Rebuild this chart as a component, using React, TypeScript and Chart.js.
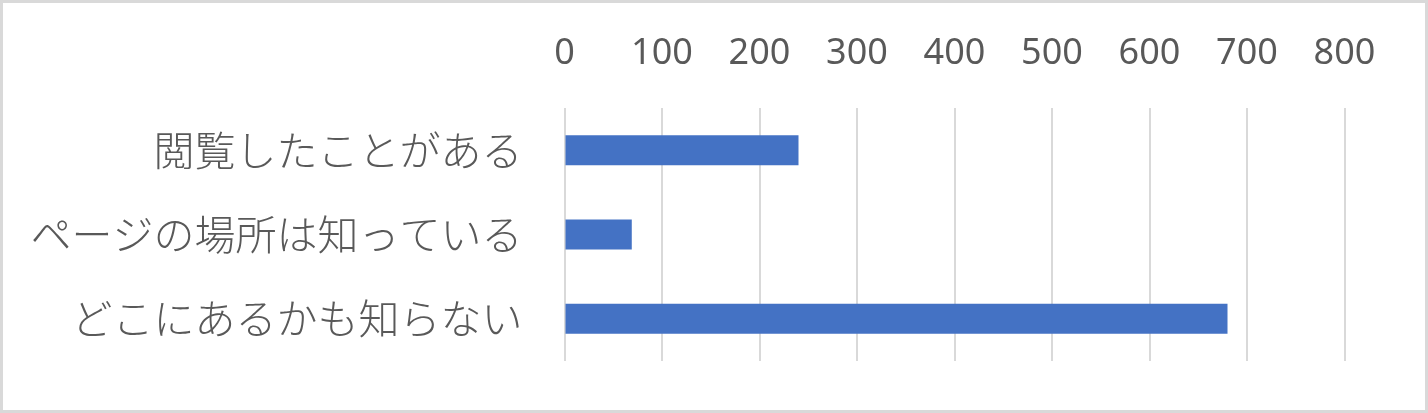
import React, { useEffect, useRef } from "react";
import { Chart, registerables } from "chart.js";

Chart.register(...registerables);

const categories: string[] = ["閲覧したことがある", "ページの場所は知っている", "どこにあるかも知らない"];
const counts: number[] = [240, 69, 680];
const axisMin = 0;
const axisMax = 800;
const axisStep = 100;

export default function App() {
  const ref = useRef<HTMLCanvasElement | null>(null);

  useEffect(() => {
    if (!ref.current) return;
    const chart = new Chart(ref.current, {
      type: "bar",
      data: {
        labels: categories,
        datasets: [
          {
            data: counts,
            backgroundColor: "#4472C4",
            borderWidth: 0,
            barPercentage: 0.356,
            categoryPercentage: 1,
          },
        ],
      },
      options: {
        indexAxis: "y",
        responsive: false,
        animation: false,
        layout: { padding: { left: 0, right: 80.5, top: 0, bottom: 49 } },
        plugins: { legend: { display: false }, tooltip: { enabled: false } },
        scales: {
          x: {
            position: "top",
            min: axisMin,
            max: axisMax,
            ticks: {
              stepSize: axisStep,
              color: "#595959",
              font: { family: "'Noto Sans', sans-serif", size: 36 },
              padding: 33,
            },
            grid: { color: "#d9d9d9", lineWidth: 2, drawTicks: false },
            border: { display: false },
            afterFit: (scale: any) => {
              scale.height = 105;
              scale.paddingLeft = 0;
              scale.paddingRight = 0;
            },
          },
          y: {
            ticks: {
              color: "#595959",
              font: { family: "'Noto Sans CJK JP', sans-serif", size: 41, weight: 300 },
              padding: 42,
            },
            grid: { display: false, drawTicks: false },
            border: { display: false },
            afterFit: (scale: any) => {
              scale.width = 561.5;
              scale.paddingTop = 0;
              scale.paddingBottom = 0;
            },
          },
        },
      },
    });
    return () => chart.destroy();
  }, []);

  return (
    <div
      style={{
        position: "fixed",
        left: 0,
        top: 0,
        width: 1428,
        height: 413,
        boxSizing: "border-box",
        border: "3px solid #d9d9d9",
        background: "#ffffff",
      }}
    >
      <canvas ref={ref} width={1422} height={407} style={{ display: "block" }} />
    </div>
  );
}
